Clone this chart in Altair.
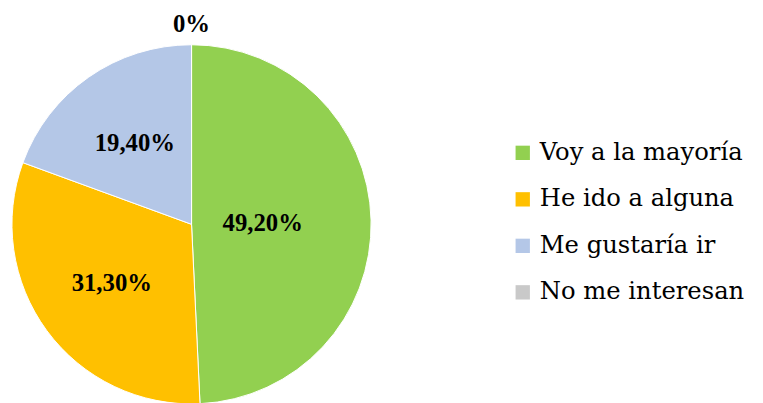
import altair as alt
import pandas as pd

categories = ["Voy a la mayoría", "He ido a alguna", "Me gustaría ir", "No me interesan"]
values = [49.2, 31.3, 19.4, 0.0]
labels = ["49,20%", "31,30%", "19,40%", "0%"]
colors = ["#92D050", "#FFC000", "#B4C7E7", "#C9C9C9"]

df = pd.DataFrame({"cat": categories, "value": values, "label": labels,
                   "ord": list(range(len(categories)))})

cx, cy, R = 185.5, 216.5, 181.5
SERIF = "Liberation Serif"
LEG_FONT = "DejaVu Serif"

pie = alt.Chart(df).mark_arc(outerRadius=R, stroke="white", strokeWidth=1).encode(
    theta=alt.Theta("value:Q", stack=True),
    order=alt.Order("ord:Q"),
    x=alt.value(cx),
    y=alt.value(cy),
    color=alt.Color(
        "cat:N",
        scale=alt.Scale(domain=categories, range=colors),
        sort=categories,
        legend=alt.Legend(
            title=None,
            orient="none",
            legendX=508,
            legendY=132,
            symbolType="square",
            symbolSize=210,
            symbolStrokeWidth=0,
            labelFont=LEG_FONT,
            labelFontSize=24.5,
            labelColor="#000000",
            labelOffset=5,
            rowPadding=22,
            padding=0,
            labelLimit=400,
        ),
    ),
)

text = alt.Chart(df).transform_window(
    cum="sum(value)", sort=[alt.SortField("ord")]
).transform_joinaggregate(
    total="sum(value)"
).transform_calculate(
    mid="(datum.cum - datum.value / 2) / datum.total * 2 * PI",
    r="datum.value == 0 ? 202 : (datum.value > 40 ? 72 : 100)",
).mark_text(
    font=SERIF, fontSize=25, fontWeight="bold", color="#000000",
    align="center", baseline="middle"
).encode(
    theta=alt.Theta("mid:Q", scale=None),
    radius=alt.Radius("r:Q", scale=None),
    x=alt.value(cx),
    y=alt.value(cy),
    text="label:N",
)

chart = (pie + text).properties(
    width=755, height=400, padding=0, background="white",
    autosize=alt.AutoSizeParams(type="none")
).configure_view(strokeWidth=0, stroke="transparent").configure_legend(
    labelFont=LEG_FONT
)

chart.save("out.html", embed_options={"renderer": "svg", "actions": False})
